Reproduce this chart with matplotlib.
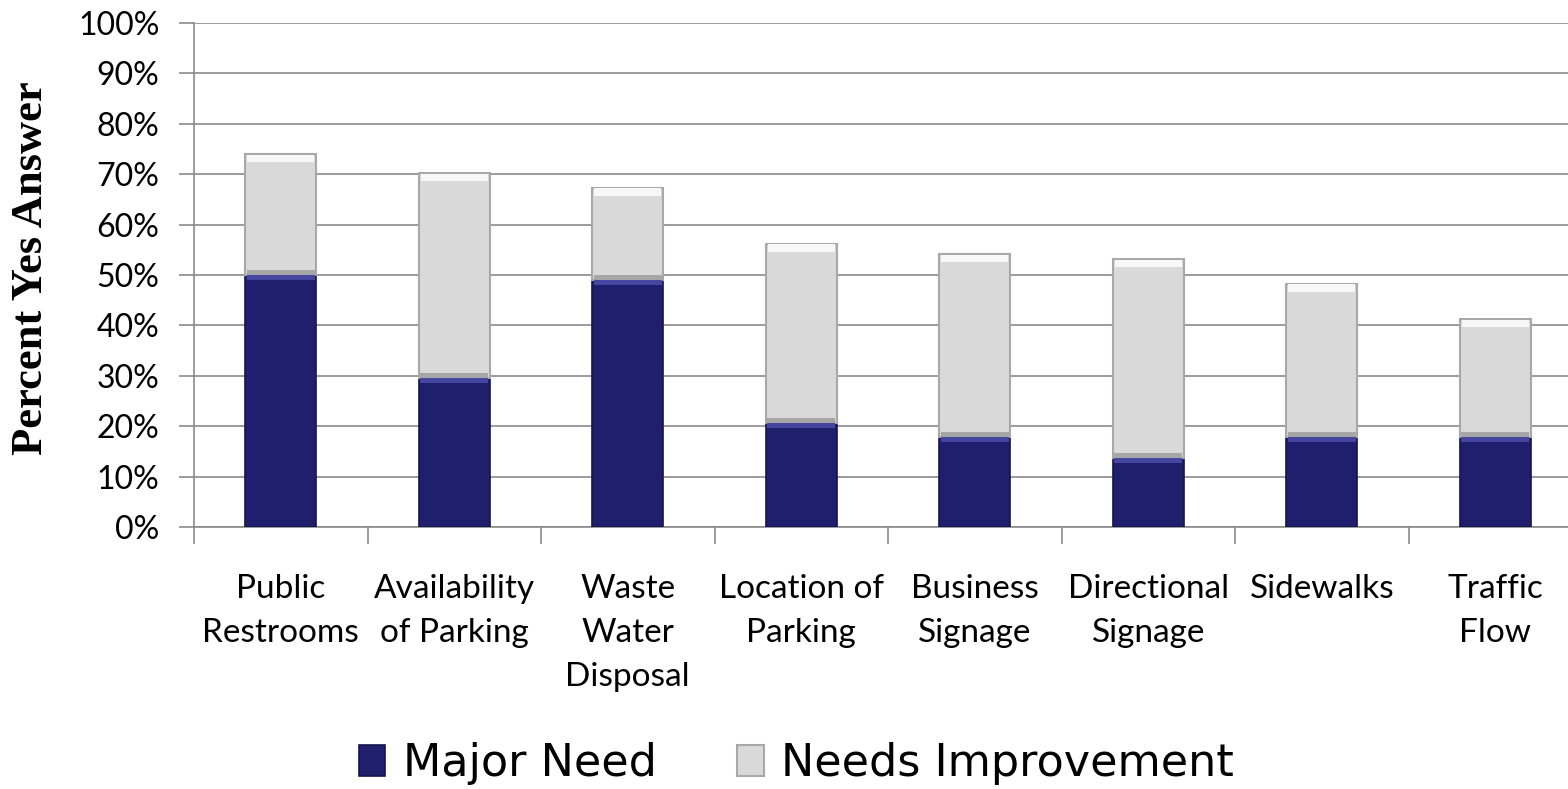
import matplotlib
matplotlib.use("Agg")
import matplotlib.pyplot as plt
import numpy as np
from matplotlib.ticker import MultipleLocator, PercentFormatter


categories = [
    "Public\nRestrooms",
    "Availability\nof Parking",
    "Waste\nWater\nDisposal",
    "Location of\nParking",
    "Business\nSignage",
    "Directional\nSignage",
    "Sidewalks",
    "Traffic\nFlow",
]
major_need = [50.0, 29.5, 49.0, 20.6, 17.9, 13.6, 17.9, 17.9]
needs_improvement = [24.0, 40.7, 18.3, 35.6, 36.2, 39.5, 30.4, 23.3]
series_names = ["Major Need", "Needs Improvement"]

NAVY = "#1f1f6e"
LIGHT = "#d9d9d9"
GRID = "#8a8a8a"


def main():
    fig = plt.figure(figsize=(15.68, 7.89), dpi=100)
    ax = fig.add_axes([194 / 1568, 1 - 527 / 789, 1388 / 1568, 504 / 789])

    x = np.arange(len(categories))
    width = 0.41
    totals = np.array(major_need) + np.array(needs_improvement)

    ax.bar(x, major_need, width, color=NAVY, edgecolor="#15154a",
           linewidth=1.2, label=series_names[0], zorder=3)
    ax.bar(x, needs_improvement, width, bottom=major_need, color=LIGHT,
           edgecolor="#a8a8a8", linewidth=1.5, label=series_names[1], zorder=3)

    # bevel look: thin shaded strips at the segment edges
    band = 1.0
    ax.bar(x, band, width * 0.96, bottom=np.array(major_need) - band,
           color="#4646a0", linewidth=0, zorder=4)
    ax.bar(x, band, width * 0.96, bottom=major_need,
           color="#a6a6a6", linewidth=0, zorder=4)
    ax.bar(x, band * 1.5, width * 0.94, bottom=totals - band * 1.6,
           color="#f7f7f7", linewidth=0, zorder=4)

    ax.set_ylim(0, 100)
    ax.set_xlim(-0.5, len(categories) - 0.5)
    ax.yaxis.set_major_locator(MultipleLocator(10))
    ax.yaxis.set_major_formatter(PercentFormatter(decimals=0))
    ax.grid(axis="y", color=GRID, linewidth=1.2, zorder=0)

    # category boundaries carry the tick marks, centres carry the labels
    ax.set_xticks(np.arange(len(categories) + 1) - 0.5)
    ax.set_xticklabels([])
    ax.set_xticks(x, minor=True)
    ax.set_xticklabels(categories, minor=True, fontsize=24,
                       family="Lato", linespacing=1.58)
    ax.tick_params(axis="x", which="major", length=12, width=1.2,
                   color=GRID, direction="out")
    ax.tick_params(axis="x", which="minor", length=0, pad=34)
    ax.tick_params(axis="y", length=11, width=1.2, color=GRID, pad=14,
                   labelsize=23)
    for lbl in ax.get_yticklabels():
        lbl.set_family("Lato")

    for side in ["top", "right"]:
        ax.spines[side].set_visible(False)
    for side in ["left", "bottom"]:
        ax.spines[side].set_color(GRID)
        ax.spines[side].set_linewidth(1.2)

    fig.text(31 / 1568, 0.66, "Percent Yes Answer", rotation=90,
             ha="center", va="center", fontsize=32, fontweight="bold",
             family="Liberation Serif")

    fig.legend(loc="center", bbox_to_anchor=(0.508, 0.032), ncol=2,
               frameon=False, prop={"family": "DejaVu Sans", "size": 32},
               handlelength=0.6, handleheight=0.7, handletextpad=0.4,
               columnspacing=1.8)

    fig.savefig("out.png", dpi=100)
    plt.close(fig)


if __name__ == "__main__":
    main()
